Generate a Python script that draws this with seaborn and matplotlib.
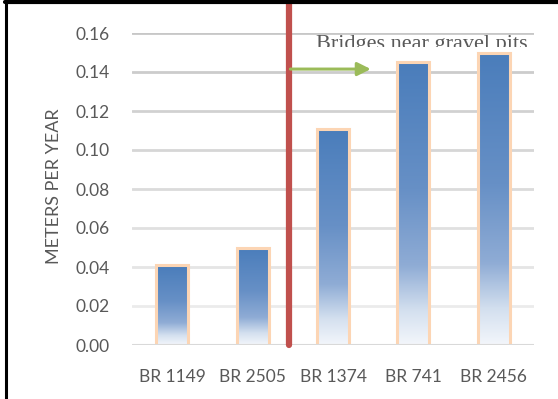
import numpy as np
import pandas as pd
import matplotlib
matplotlib.use("Agg")
import matplotlib.pyplot as plt
import seaborn as sns
from matplotlib.colors import LinearSegmentedColormap
from matplotlib.patches import Rectangle, FancyArrowPatch
from matplotlib.lines import Line2D
import matplotlib.transforms as mtransforms

bridges = ["BR 1149", "BR 2505", "BR 1374", "BR 741", "BR 2456"]
rates = [0.041, 0.050, 0.111, 0.145, 0.150]
y_ticks = [0.00, 0.02, 0.04, 0.06, 0.08, 0.10, 0.12, 0.14, 0.16]
y_label = "METERS PER YEAR"
note = "Bridges near gravel pits"

df = pd.DataFrame({"bridge": bridges, "rate": rates})

sns.set_theme(style="white")
plt.rcParams["font.family"] = ["Lato", "DejaVu Sans"]

W, H = 558, 399
fig = plt.figure(figsize=(W / 100, H / 100), dpi=100)
ax = fig.add_axes([132 / W, 1 - 345 / H, (534 - 132) / W, (345 - 33) / H])

sns.barplot(data=df, x="bridge", y="rate", ax=ax, width=0.4,
            color="#4F81BD", saturation=1)
ax.set_ylim(0, 0.16)
ax.set_xlim(-0.5, len(bridges) - 0.5)

# vertical gradient fill inside each bar, dark blue at top fading to white
grad_cmap = LinearSegmentedColormap.from_list(
    "bar_fade",
    [(0.0, "#4A7DBB"), (0.45, "#6790C6"), (0.72, "#8FACD5"), (0.88, "#D4E0EF"), (1.0, "#F3F6FB")],
)
grad = np.linspace(0, 1, 256).reshape(-1, 1)
for patch in ax.patches:
    x0, y0 = patch.get_x(), patch.get_y()
    w, h = patch.get_width(), patch.get_height()
    img = ax.imshow(grad, cmap=grad_cmap, aspect="auto",
                    extent=[x0, x0 + w, y0, y0 + h], origin="upper", zorder=2)
    img.set_clip_path(patch)
    patch.set_facecolor("none")
    patch.set_edgecolor("#FCD5B4")
    patch.set_linewidth(2.2)
    patch.set_zorder(3)
ax.set_xlim(-0.5, len(bridges) - 0.5)
ax.set_ylim(0, 0.16)

# gridlines shading lighter toward the baseline
for yv in y_ticks[1:]:
    frac = yv / 0.16
    g = 0.94 - 0.16 * frac
    ax.axhline(yv, color=(g, g, g), lw=2.0, zorder=1)
ax.axhline(0, color="#D9D9D9", lw=2.2, zorder=4)

for s in ax.spines.values():
    s.set_visible(False)

ax.set_yticks(y_ticks)
ax.set_yticklabels([f"{v:.2f}" for v in y_ticks])
ax.tick_params(axis="y", length=0, pad=16, labelsize=12.5, labelcolor="#595959")
ax.tick_params(axis="x", length=0, pad=17, labelsize=12.5, labelcolor="#595959")
ax.set_xlabel("")
ax.set_ylabel(y_label, fontsize=13, color="#595959")
ax.yaxis.set_label_coords(-70 / 402, 0.51)

# divider between ordinary bridges and those near gravel pits
trans = mtransforms.blended_transform_factory(ax.transData, ax.transAxes)
ax.add_line(Line2D([1.45, 1.45], [0, 343 / 312], transform=trans, color="#C0504D",
                   lw=4.5, clip_on=False, zorder=5))

arrow = FancyArrowPatch((1.47, 0.1415), (2.47, 0.1415), arrowstyle="-|>",
                        mutation_scale=20, color="#9BBB59", lw=2.2, zorder=6,
                        shrinkA=0, shrinkB=0)
ax.add_patch(arrow)

txt = fig.text(422 / W, 1 - 49 / H, note, ha="center", va="baseline",
               fontsize=16, color="#595959", family=["Liberation Serif", "DejaVu Serif"])
clip = Rectangle((0, 1 - 47 / H), 1, 47 / H, transform=fig.transFigure)
txt.set_clip_path(clip)
txt.set_clip_on(True)

# frame along the left and top edges
fig.add_artist(Line2D([6 / W, 6 / W], [0, 1], transform=fig.transFigure, color="black", lw=2.2))
fig.add_artist(Line2D([5 / W, 1], [1 - 1.5 / H, 1 - 1.5 / H], transform=fig.transFigure,
                      color="black", lw=3))

fig.savefig("out.png", dpi=100)
